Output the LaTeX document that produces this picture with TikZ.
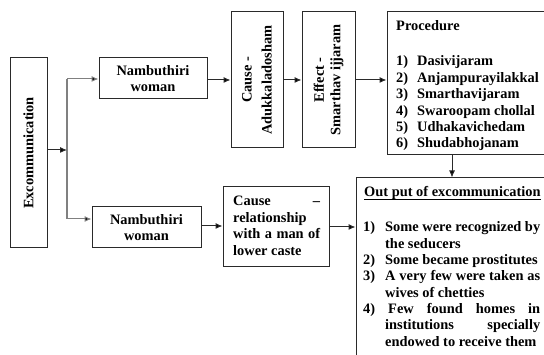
\documentclass[tikz,border=0pt]{standalone}
\usepackage{fontspec}
\setmainfont{Liberation Serif}
\usetikzlibrary{arrows.meta}
\definecolor{boxgray}{HTML}{2A2A2A}
\definecolor{arrgray}{HTML}{2A2A2A}
\definecolor{trunkgray}{HTML}{808080}
\begin{document}
\begin{tikzpicture}[x=1pt,y=-1pt,
  every node/.style={font=\fontsize{14.4}{16.5}\selectfont\bfseries, inner sep=0pt, text=black},
  box/.style={draw=boxgray, line width=1pt, rectangle},
  arr/.style={draw=arrgray, line width=1pt, -{Latex[length=7pt,width=6pt,fill=black]}},
  trunk/.style={draw=trunkgray, line width=1.4pt},
  txt/.style={anchor=base west}]
\clip (0,0) rectangle (544,355);
% boxes
\node[box, minimum width=37pt, minimum height=190pt] (excom) at (28.5,153) {};
\node[rotate=90] (excomt) at (28.5,153) {Excommunication};
\node[box, minimum width=108pt, minimum height=41pt, align=center] (nam1) at (153,78.5) {Nambuthiri\\woman};
\node[box, minimum width=109pt, minimum height=41pt, align=center] (nam2) at (146.5,227.5) {Nambuthiri\\woman};
\node[box, minimum width=52pt, minimum height=136pt] (cause1) at (257,80) {};
\node[rotate=90, align=center, font=\fontsize{14.4}{20}\selectfont\bfseries] (cause1t) at (257,80) {Cause -\\Adukkaladosham};
\node[box, minimum width=53pt, minimum height=136pt] (effect) at (328.5,80) {};
\node[rotate=90, align=center, font=\fontsize{14.4}{16.5}\selectfont\bfseries] (effectt) at (328.5,80) {Effect -\\Smarthav ijjaram};
\node[box, minimum width=163pt, minimum height=143pt] (proc) at (468.5,83.5) {};
\node[box, minimum width=106pt, minimum height=80pt] (cause2) at (276,227) {};
\node[box, minimum width=194pt, minimum height=187pt] (out) at (453,271.5) {};
% procedure text
\node[txt] (ptitle) at (396,31) {Procedure};
\foreach \n/\t [count=\i] in {1)/Dasivijaram, 2)/Anjampurayilakkal, 3)/Smarthavijaram, 4)/Swaroopam chollal, 5)/Udhakavichedam, 6)/Shudabhojanam}{
  \node[txt] (pn\i) at (396,{66+16.4*(\i-1)}) {\n};
  \node[txt] (pt\i) at (417,{66+16.4*(\i-1)}) {\t};
}
% cause 2 text
\node[txt] (c2a) at (233,206) {\makebox[87pt][s]{Cause –}};
\node[txt] (c2b) at (233,222.5) {relationship};
\node[txt] (c2c) at (233,239) {\makebox[87pt][s]{with a man of}};
\node[txt] (c2d) at (233,255.5) {lower caste};
% output text
\node[txt] (otitle) at (364,197) {Out put of excommunication};
\draw[line width=1.2pt] (otitle.base west) ++(0,2.5) -- ([yshift=-2.5pt]otitle.base east);
\node[txt] (o1n) at (363,232) {1)};
\node[txt] (o1a) at (385,232) {\makebox[155pt][s]{Some were recognized by}};
\node[txt] (o1b) at (385,248.5) {the seducers};
\node[txt] (o2n) at (363,265) {2)};
\node[txt] (o2a) at (385,265) {Some became prostitutes};
\node[txt] (o3n) at (363,281) {3)};
\node[txt] (o3a) at (385,281) {\makebox[155pt][s]{A very few were taken as}};
\node[txt] (o3b) at (385,297.5) {wives of chetties};
\node[txt] (o4n) at (363,314) {4)};
\node[txt] (o4a) at (388,314) {\makebox[152pt][s]{Few found homes in}};
\node[txt] (o4b) at (385,330) {\makebox[155pt][s]{institutions specially}};
\node[txt] (o4c) at (385,346.5) {endowed to receive them};
% connectors
\coordinate (j) at (67,150);
\coordinate (t1) at (67,79);
\coordinate (t2) at (67,219);
\draw[trunk] (t1) -- (t2);
\draw[arr] (excom.east |- j) -- (j);
\draw[arr, draw=trunkgray] (t1) -- (nam1.west |- t1);
\draw[arr, draw=trunkgray] (t2) -- (nam2.west |- t2);
\coordinate (r1) at (0,80);
\draw[arr] (nam1.east |- r1) -- (cause1.west |- r1);
\draw[arr] (cause1.east |- r1) -- (effect.west |- r1);
\draw[arr] (effect.east |- r1) -- (proc.west |- r1);
\coordinate (r2) at (0,226);
\draw[arr] (nam2.east |- r2) -- (cause2.west |- r2);
\coordinate (r3) at (0,227);
\draw[arr] (cause2.east |- r3) -- (out.west |- r3);
\coordinate (c3) at (452,0);
\draw[arr] (proc.south -| c3) -- (out.north -| c3);
\end{tikzpicture}
\end{document}
